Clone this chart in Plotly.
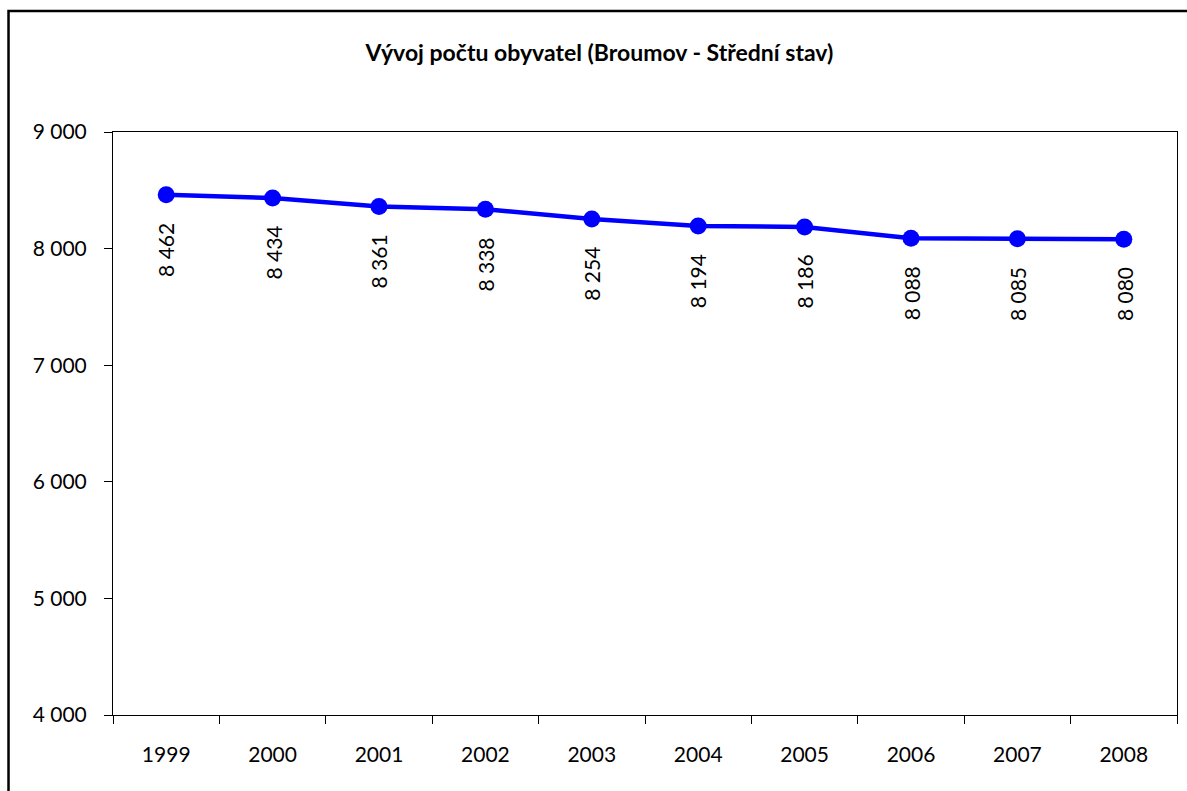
import plotly.graph_objects as go

years = ["1999", "2000", "2001", "2002", "2003", "2004", "2005", "2006", "2007", "2008"]
population = [8462, 8434, 8361, 8338, 8254, 8194, 8186, 8088, 8085, 8080]
y_ticks = [4000, 5000, 6000, 7000, 8000, 9000]
y_tick_labels = ["4 000", "5 000", "6 000", "7 000", "8 000", "9 000"]
title_text = "Vývoj počtu obyvatel (Broumov - Střední stav)"

FONT = "Lato, Calibri, Carlito, sans-serif"

fig = go.Figure()
fig.add_trace(go.Scatter(
    x=years, y=population, mode="lines+markers",
    line=dict(color="#0000FF", width=4.5),
    marker=dict(color="#0000FF", size=17),
    showlegend=False, hoverinfo="skip",
))

for i, v in enumerate(population):
    fig.add_annotation(
        x=i, y=v, xref="x", yref="y",
        text=f"{v:,}".replace(",", " "),
        textangle=-90, showarrow=False,
        yanchor="top", xanchor="center", yshift=-26,
        font=dict(family=FONT, size=21, color="black"),
    )

# outer chart border
fig.add_shape(type="rect", xref="paper", yref="paper",
              x0=-0.0982, x1=1.03, y0=-0.25, y1=1.2075,
              line=dict(color="black", width=2.5), fillcolor="rgba(0,0,0,0)", layer="below")

fig.update_layout(
    width=1187, height=791,
    margin=dict(l=113, r=10, t=132, b=76),
    paper_bgcolor="white", plot_bgcolor="white",
    title=dict(text=title_text, x=0.505, xanchor="center", y=1 - 53 / 791, yanchor="middle",
               font=dict(family=FONT, size=23, color="black", weight="bold")),
    font=dict(family=FONT, size=21, color="black"),
)
fig.update_xaxes(
    type="category", range=[-0.5, len(years) - 0.5], tickson="boundaries",
    ticks="outside", ticklen=8, tickangle=0,
    tickcolor="black", showline=True, linecolor="black", linewidth=1, mirror=True,
    showgrid=False, ticklabelstandoff=21, tickfont=dict(family=FONT, size=21),
)
fig.update_yaxes(
    range=[4000, 9000], tickvals=y_ticks, ticktext=y_tick_labels,
    ticks="outside", ticklen=8, tickcolor="black",
    showline=True, linecolor="black", linewidth=1, mirror=True,
    showgrid=False, zeroline=False, ticklabelstandoff=13,
    tickfont=dict(family=FONT, size=21),
)

fig.write_html("out.html", config={"displayModeBar": False},
               post_script="document.body.style.margin='0';document.body.style.overflow='hidden';")
